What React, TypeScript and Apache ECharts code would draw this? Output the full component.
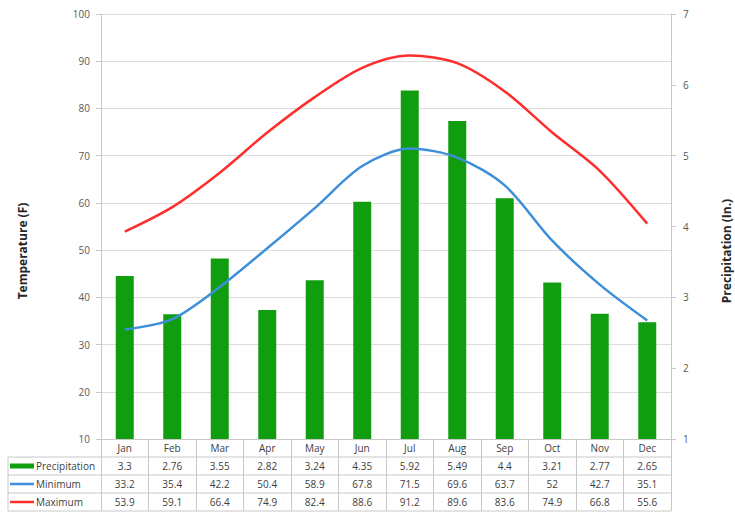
import React, { useEffect, useRef } from "react";
import * as echarts from "echarts";

const categories = ["Jan", "Feb", "Mar", "Apr", "May", "Jun", "Jul", "Aug", "Sep", "Oct", "Nov", "Dec"];
const precipitation = [3.3, 2.76, 3.55, 2.82, 3.24, 4.35, 5.92, 5.49, 4.4, 3.21, 2.77, 2.65];
const minimum = [33.2, 35.4, 42.2, 50.4, 58.9, 67.8, 71.5, 69.6, 63.7, 52, 42.7, 35.1];
const maximum = [53.9, 59.1, 66.4, 74.9, 82.4, 88.6, 91.2, 89.6, 83.6, 74.9, 66.8, 55.6];
const seriesNames = ["Precipitation", "Minimum", "Maximum"];
const axisTitles = ["Temperature (F)", "Precipitation (In.)"];

const W = 735;
const H = 512;
const GL = 101;
const GR = 671;
const GT = 14;
const GB = 439;
const ROW = 18;
const FONT = "'Open Sans', 'Liberation Sans', sans-serif";
const TXT = "#404040";
const LINE = "#c8c8c8";
const GREEN = "#109e10";
const BLUE = "#3d8fd9";
const RED = "#ff2e2e";

export default function App() {
  const ref = useRef<HTMLDivElement>(null);
  useEffect(() => {
    if (!ref.current) return;
    const chart = echarts.init(ref.current, null, { renderer: "svg" });
    const rowAxis = (values: number[], rowIdx: number) => ({
      type: "category",
      data: values.map(String),
      position: "bottom",
      gridIndex: 0,
      axisLine: { show: false },
      axisTick: { show: false },
      axisLabel: {
        interval: 0,
        margin: ROW * rowIdx + ROW / 2,
        verticalAlign: "middle",
        fontSize: 10,
        color: TXT,
        fontFamily: FONT,
      },
    });
    const g: any[] = [];
    for (let r = 1; r <= 4; r++) {
      g.push({
        type: "line",
        shape: { x1: 8, y1: GB + ROW * r, x2: GR, y2: GB + ROW * r },
        style: { stroke: LINE, lineWidth: 1 },
      });
    }
    g.push({
      type: "line",
      shape: { x1: 8, y1: GB + ROW, x2: 8, y2: GB + ROW * 4 },
      style: { stroke: LINE, lineWidth: 1 },
    });
    const legendColors = [GREEN, BLUE, RED];
    seriesNames.forEach((n, i) => {
      const cy = GB + ROW * (i + 1) + ROW / 2;
      if (i === 0) {
        g.push({ type: "rect", shape: { x: 10, y: cy - 2.5, width: 24, height: 5 }, style: { fill: GREEN } });
      } else {
        g.push({
          type: "line",
          shape: { x1: 10, y1: cy, x2: 34, y2: cy },
          style: { stroke: legendColors[i], lineWidth: 2.5 },
        });
      }
      g.push({
        type: "text",
        x: 36,
        y: cy,
        style: { text: n, fontSize: 10, fill: TXT, fontFamily: FONT, verticalAlign: "middle", align: "left" },
      });
    });
    const titlePos = [22, 726];
    axisTitles.forEach((t, i) => {
      g.push({
        type: "text",
        x: titlePos[i],
        y: 251,
        rotation: Math.PI / 2,
        style: {
          text: t,
          fontSize: 12,
          fontWeight: "bold",
          fill: "#262626",
          fontFamily: FONT,
          align: "center",
          verticalAlign: "middle",
        },
      });
    });

    chart.setOption({
      animation: false,
      backgroundColor: "#ffffff",
      grid: { left: GL, right: W - GR, top: GT, bottom: H - GB, containLabel: false },
      xAxis: [
        {
          type: "category",
          data: categories,
          boundaryGap: true,
          axisLine: { show: true, lineStyle: { color: LINE, width: 1 } },
          axisTick: { show: true, interval: 0, length: ROW * 4, lineStyle: { color: LINE } },
          axisLabel: { interval: 0, margin: ROW / 2, verticalAlign: "middle", fontSize: 10, color: TXT, fontFamily: FONT },
        },
        rowAxis(precipitation, 1),
        rowAxis(minimum, 2),
        rowAxis(maximum, 3),
      ],
      yAxis: [
        {
          type: "value",
          min: 10,
          max: 100,
          interval: 10,
          position: "left",
          axisLine: { show: true, lineStyle: { color: LINE } },
          axisTick: { show: true, length: 5, lineStyle: { color: LINE } },
          axisLabel: { fontSize: 10, color: "#595959", margin: 11, fontFamily: FONT },
          splitLine: { show: true, lineStyle: { color: "#dcdcdc" } },
        },
        {
          type: "value",
          min: 1,
          max: 7,
          interval: 1,
          position: "right",
          axisLine: { show: true, lineStyle: { color: LINE } },
          axisTick: { show: true, length: 5, lineStyle: { color: LINE } },
          axisLabel: { fontSize: 10, color: "#595959", margin: 12, fontFamily: FONT },
          splitLine: { show: false },
        },
      ],
      series: [
        {
          name: seriesNames[0],
          type: "bar",
          yAxisIndex: 1,
          data: precipitation,
          barWidth: 18,
          itemStyle: { color: GREEN },
          z: 2,
        },
        {
          name: seriesNames[1],
          type: "line",
          yAxisIndex: 0,
          data: minimum,
          smooth: 0.3,
          symbol: "none",
          lineStyle: { color: BLUE, width: 2.5 },
          z: 3,
        },
        {
          name: seriesNames[2],
          type: "line",
          yAxisIndex: 0,
          data: maximum,
          smooth: 0.3,
          symbol: "none",
          lineStyle: { color: RED, width: 2.5 },
          z: 3,
        },
      ],
      graphic: g,
    });
    return () => chart.dispose();
  }, []);
  return <div ref={ref} style={{ position: "fixed", left: 0, top: 0, width: W, height: H }} />;
}
